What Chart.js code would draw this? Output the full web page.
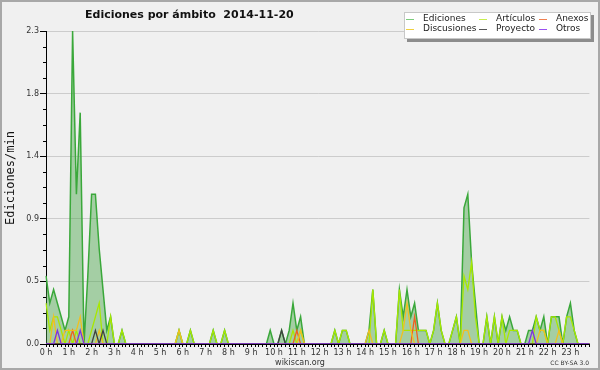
<!DOCTYPE html>
<html lang="es">
<head>
<meta charset="UTF-8">
<title>Ediciones por ámbito 2014-11-20</title>
<script src="https://cdn.jsdelivr.net/npm/chart.js@4.4.1/dist/chart.umd.min.js"></script>
<style>
  html, body { margin: 0; padding: 0; background: #f0f0f0; }
  #grafico { display: block; }
</style>
</head>
<body>
<canvas id="grafico" width="600" height="370"></canvas>
<script>
// etiquetas de horas del eje x
var horas = ['0 h', '1 h', '2 h', '3 h', '4 h', '5 h', '6 h', '7 h', '8 h', '9 h', '10 h', '11 h',
             '12 h', '13 h', '14 h', '15 h', '16 h', '17 h', '18 h', '19 h', '20 h', '21 h', '22 h', '23 h'];
// eje y
var yValores = [0, 0.46, 0.92, 1.38, 1.84, 2.3];
var yEtiquetas = ['0.0', '0.5', '0.9', '1.4', '1.8', '2.3'];

// tramos de 10 minutos, una fila = 2 horas
var ediciones = [
  0.5, 0.3, 0.4, 0.3, 0.2, 0.1, 0.2, 2.3, 1.1, 1.7, 0, 0.5,
  1.1, 1.1, 0.7, 0.4, 0.1, 0.2, 0, 0, 0.1, 0, 0, 0,
  0, 0, 0, 0, 0, 0, 0, 0, 0, 0, 0, 0.1,
  0, 0, 0.1, 0, 0, 0, 0, 0, 0.1, 0, 0, 0.1,
  0, 0, 0, 0, 0, 0, 0, 0, 0, 0, 0, 0.1,
  0, 0, 0.1, 0, 0.1, 0.3, 0.1, 0.2, 0, 0, 0, 0,
  0, 0, 0, 0, 0.1, 0, 0.1, 0.1, 0, 0, 0, 0,
  0, 0.1, 0.4, 0, 0, 0.1, 0, 0, 0, 0.4, 0.2, 0.4,
  0.2, 0.3, 0.1, 0.1, 0.1, 0, 0.1, 0.3, 0.1, 0, 0, 0.1,
  0.2, 0, 1.0, 1.1, 0.6, 0.3, 0, 0, 0.2, 0, 0.2, 0,
  0.2, 0.1, 0.2, 0.1, 0.1, 0, 0, 0.1, 0.1, 0.2, 0.1, 0.2,
  0, 0.2, 0.2, 0.2, 0, 0.2, 0.3, 0.1, 0, 0, 0, 0
];
var articulos = [
  0.3, 0.1, 0.2, 0.2, 0.1, 0, 0.1, 0, 0.1, 0, 0, 0,
  0.1, 0.2, 0.3, 0, 0, 0.2, 0, 0, 0.1, 0, 0, 0,
  0, 0, 0, 0, 0, 0, 0, 0, 0, 0, 0, 0.1,
  0, 0, 0.1, 0, 0, 0, 0, 0, 0.1, 0, 0, 0.1,
  0, 0, 0, 0, 0, 0, 0, 0, 0, 0, 0, 0,
  0, 0, 0, 0, 0, 0.1, 0, 0.1, 0, 0, 0, 0,
  0, 0, 0, 0, 0.1, 0, 0.1, 0.1, 0, 0, 0, 0,
  0, 0, 0.4, 0, 0, 0.1, 0, 0, 0, 0.4, 0.1, 0.1,
  0.1, 0.1, 0.1, 0.1, 0.1, 0, 0.1, 0.3, 0.1, 0, 0, 0.1,
  0.2, 0, 0.5, 0.4, 0.6, 0.2, 0, 0, 0.2, 0, 0.2, 0,
  0.2, 0, 0.1, 0.1, 0.1, 0, 0, 0, 0, 0.2, 0.1, 0.1,
  0, 0.2, 0.2, 0.1, 0, 0.2, 0.2, 0.1, 0, 0, 0, 0
];
var anexos = [
  0, 0, 0, 0, 0, 0, 0, 0.1, 0, 0, 0, 0,
  0, 0, 0, 0, 0, 0, 0, 0, 0, 0, 0, 0,
  0, 0, 0, 0, 0, 0, 0, 0, 0, 0, 0, 0,
  0, 0, 0, 0, 0, 0, 0, 0, 0, 0, 0, 0,
  0, 0, 0, 0, 0, 0, 0, 0, 0, 0, 0, 0,
  0, 0, 0, 0, 0, 0, 0.1, 0, 0, 0, 0, 0,
  0, 0, 0, 0, 0, 0, 0, 0, 0, 0, 0, 0,
  0, 0, 0, 0, 0, 0, 0, 0, 0, 0, 0, 0,
  0, 0.2, 0, 0, 0, 0, 0, 0, 0, 0, 0, 0,
  0, 0, 0, 0, 0, 0, 0, 0, 0, 0, 0, 0,
  0, 0, 0, 0, 0, 0, 0, 0, 0, 0, 0, 0,
  0, 0, 0, 0, 0, 0, 0, 0, 0, 0, 0, 0
];
var discusiones = [
  0, 0, 0.2, 0, 0, 0.1, 0.1, 0.1, 0.1, 0.2, 0, 0,
  0, 0, 0.1, 0, 0, 0, 0, 0, 0, 0, 0, 0,
  0, 0, 0, 0, 0, 0, 0, 0, 0, 0, 0, 0.1,
  0, 0, 0, 0, 0, 0, 0, 0, 0, 0, 0, 0,
  0, 0, 0, 0, 0, 0, 0, 0, 0, 0, 0, 0,
  0, 0, 0, 0, 0, 0, 0, 0.1, 0, 0, 0, 0,
  0, 0, 0, 0, 0, 0, 0, 0, 0, 0, 0, 0,
  0, 0.1, 0, 0, 0, 0, 0, 0, 0, 0, 0.1, 0.3,
  0.1, 0, 0, 0, 0, 0, 0, 0, 0, 0, 0, 0,
  0, 0, 0.1, 0.1, 0, 0, 0, 0, 0, 0, 0, 0,
  0, 0, 0, 0, 0, 0, 0, 0, 0, 0, 0.1, 0.1,
  0, 0, 0, 0.1, 0, 0, 0, 0, 0, 0, 0, 0
];
var proyecto = [
  0, 0, 0, 0, 0, 0, 0, 0, 0, 0, 0, 0,
  0, 0.1, 0, 0.1, 0, 0, 0, 0, 0, 0, 0, 0,
  0, 0, 0, 0, 0, 0, 0, 0, 0, 0, 0, 0,
  0, 0, 0, 0, 0, 0, 0, 0, 0, 0, 0, 0,
  0, 0, 0, 0, 0, 0, 0, 0, 0, 0, 0, 0,
  0, 0, 0.1, 0, 0, 0, 0, 0, 0, 0, 0, 0,
  0, 0, 0, 0, 0, 0, 0, 0, 0, 0, 0, 0,
  0, 0, 0, 0, 0, 0, 0, 0, 0, 0, 0, 0,
  0, 0, 0, 0, 0, 0, 0, 0, 0, 0, 0, 0,
  0, 0, 0, 0, 0, 0, 0, 0, 0, 0, 0, 0,
  0, 0, 0, 0, 0, 0, 0, 0, 0, 0, 0, 0,
  0, 0, 0, 0, 0, 0, 0, 0, 0, 0, 0, 0
];
var otros = [
  0, 0, 0, 0.1, 0, 0, 0, 0, 0, 0.1, 0, 0,
  0, 0, 0, 0, 0, 0, 0, 0, 0, 0, 0, 0,
  0, 0, 0, 0, 0, 0, 0, 0, 0, 0, 0, 0,
  0, 0, 0, 0, 0, 0, 0, 0, 0, 0, 0, 0,
  0, 0, 0, 0, 0, 0, 0, 0, 0, 0, 0, 0,
  0, 0, 0, 0, 0, 0, 0, 0, 0, 0, 0, 0,
  0, 0, 0, 0, 0, 0, 0, 0, 0, 0, 0, 0,
  0, 0, 0, 0, 0, 0, 0, 0, 0, 0, 0, 0,
  0, 0, 0, 0, 0, 0, 0, 0, 0, 0, 0, 0,
  0, 0, 0, 0, 0, 0, 0, 0, 0, 0, 0, 0,
  0, 0, 0, 0, 0, 0, 0, 0, 0.1, 0, 0, 0,
  0, 0, 0, 0, 0, 0, 0, 0, 0, 0, 0, 0
];

// categorias: 00:00, 00:10 ... 23:50
var tramos = [];
for (var h = 0; h < 24; h++) {
  for (var m = 0; m < 60; m += 10) {
    tramos.push((h < 10 ? '0' : '') + h + ':' + (m < 10 ? '0' : '') + m);
  }
}

var leyenda = [
  { texto: 'Ediciones', color: '#7ccc7c', x: 406, y: 19 },
  { texto: 'Discusiones', color: '#f0d040', x: 406, y: 29 },
  { texto: 'Artículos', color: '#c8ee50', x: 479, y: 19 },
  { texto: 'Proyecto', color: '#555555', x: 479, y: 29 },
  { texto: 'Anexos', color: '#f08050', x: 539, y: 19 },
  { texto: 'Otros', color: '#9a50f0', x: 539, y: 29 }
];

function serie(nombre, datos, color, orden, ancho) {
  return {
    label: nombre,
    data: datos,
    borderColor: color,
    borderWidth: ancho,
    pointRadius: 0,
    tension: 0,
    fill: false,
    order: orden
  };
}

var extras = {
  id: 'extras',
  beforeDraw: function (chart) {
    var c = chart.ctx;
    c.save();
    c.fillStyle = '#f0f0f0';
    c.fillRect(0, 0, chart.width, chart.height);
    c.restore();
  },
  afterDraw: function (chart) {
    var c = chart.ctx;
    var sx = chart.scales.x, sy = chart.scales.y;
    c.save();

    // marcas menores del eje y
    c.strokeStyle = '#000';
    c.lineWidth = 1;
    c.beginPath();
    for (var k = 1; k < 20; k++) {
      if (k % 4 === 0) continue;
      var py = Math.round(sy.getPixelForValue(k * 0.115)) + 0.5;
      c.moveTo(sx.left - 3, py);
      c.lineTo(sx.left, py);
    }
    c.stroke();

    // titulo
    c.fillStyle = '#111';
    c.font = 'bold 11px "DejaVu Sans"';
    c.textAlign = 'left';
    c.textBaseline = 'alphabetic';
    c.fillText('Ediciones por ámbito  2014-11-20', 85, 18);

    // titulo del eje y
    c.save();
    c.translate(14, 178);
    c.rotate(-Math.PI / 2);
    c.font = '12px "DejaVu Sans Mono"';
    c.textAlign = 'center';
    c.fillStyle = '#111';
    c.fillText('Ediciones/min', 0, 0);
    c.restore();

    // leyenda
    c.fillStyle = '#8c8c8c';
    c.fillRect(407, 15, 187, 27);
    c.fillStyle = '#fff';
    c.fillRect(404, 12, 187, 27);
    c.strokeStyle = '#c8c8c8';
    c.strokeRect(404.5, 12.5, 186, 26);
    c.font = '9px "DejaVu Sans"';
    c.textBaseline = 'middle';
    leyenda.forEach(function (l) {
      c.strokeStyle = l.color;
      c.lineWidth = 1;
      c.beginPath();
      c.moveTo(l.x, l.y + 0.5);
      c.lineTo(l.x + 8, l.y + 0.5);
      c.stroke();
      c.fillStyle = '#222';
      c.fillText(l.texto, l.x + 17, l.y);
    });

    // pie
    c.textBaseline = 'alphabetic';
    c.fillStyle = '#333';
    c.font = '8px "DejaVu Sans"';
    c.textAlign = 'center';
    c.fillText('wikiscan.org', 300, 365);
    c.font = '6px "DejaVu Sans"';
    c.textAlign = 'right';
    c.fillText('CC BY-SA 3.0', 589, 365);

    // marco
    c.strokeStyle = '#a8a8a8';
    c.lineWidth = 2;
    c.strokeRect(1, 1, chart.width - 2, chart.height - 2);
    c.restore();
  }
};

var grafico = new Chart(document.getElementById('grafico'), {
  type: 'line',
  data: {
    labels: tramos,
    datasets: [
      {
        label: 'Ediciones',
        data: ediciones,
        borderColor: '#3aa83a',
        backgroundColor: 'rgba(70,165,70,0.45)',
        borderWidth: 1.5,
        pointRadius: 0,
        tension: 0,
        fill: 'origin',
        order: 6
      },
      serie('Artículos', articulos, '#a8e800', 5, 1.3),
      serie('Anexos', anexos, '#f06020', 4, 1.3),
      serie('Discusiones', discusiones, '#f0c020', 3, 1.3),
      serie('Proyecto', proyecto, '#404040', 2, 1.3),
      serie('Otros', otros, '#8030e0', 1, 1.3)
    ]
  },
  options: {
    responsive: false,
    animation: false,
    layout: { padding: { top: 31, right: 10.6, left: 0, bottom: 0 } },
    plugins: {
      legend: { display: false },
      title: { display: false },
      tooltip: { enabled: false }
    },
    scales: {
      x: {
        type: 'category',
        offset: false,
        afterFit: function (s) { s.height = 26; },
        grid: {
          display: true,
          drawOnChartArea: false,
          drawTicks: true,
          tickLength: 3,
          tickColor: '#000'
        },
        border: { display: true, color: '#000', width: 1 },
        ticks: {
          autoSkip: false,
          maxRotation: 0,
          minRotation: 0,
          padding: 1,
          color: '#333',
          font: { family: 'DejaVu Sans', size: 8 },
          callback: function (v, i) { return i % 6 === 0 ? horas[i / 6] : ''; }
        }
      },
      y: {
        min: 0,
        max: 2.3,
        afterFit: function (s) { s.width = 46; },
        afterBuildTicks: function (s) {
          s.ticks = yValores.map(function (v) { return { value: v }; });
        },
        grid: {
          color: '#cccccc',
          lineWidth: 1,
          tickLength: 6,
          tickColor: '#000'
        },
        border: { display: true, color: '#000', width: 1 },
        ticks: {
          padding: 1,
          color: '#333',
          font: { family: 'DejaVu Sans', size: 8 },
          callback: function (v, i) { return yEtiquetas[i]; }
        }
      }
    }
  },
  plugins: [extras]
});
</script>
</body>
</html>
